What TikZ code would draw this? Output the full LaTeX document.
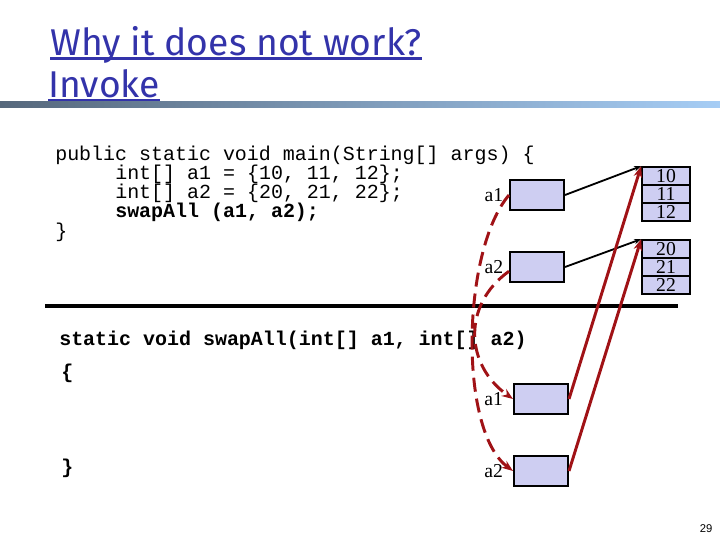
\documentclass[tikz,border=0pt]{standalone}
\usepackage{fontspec}
\setmainfont{Liberation Serif}
\newfontfamily\codefont{Liberation Mono}
\newfontfamily\titlefont{Fira Sans}
\newfontfamily\pagefont{Liberation Sans}
\usetikzlibrary{arrows.meta, positioning}

\definecolor{titleblue}{RGB}{51,51,170}
\definecolor{boxfill}{RGB}{206,206,242}
\definecolor{refred}{RGB}{160,18,22}
\definecolor{barleft}{RGB}{86,104,124}
\definecolor{barright}{RGB}{166,205,245}

\begin{document}
\begin{tikzpicture}[
  x=0.025cm, y=-0.025cm,
  title/.style={font=\titlefont\fontsize{26.5}{28}\selectfont, text=titleblue,
                anchor=base west, inner sep=0pt},
  code/.style={font=\codefont\fontsize{14.2}{17}\selectfont, anchor=base west, inner sep=0pt},
  var/.style={rectangle, draw=black, line width=1.4pt, fill=boxfill,
              minimum width=1.35cm, minimum height=0.75cm},
  cell/.style={rectangle, draw=black, line width=1.2pt, fill=boxfill, inner sep=0pt,
               minimum width=1.2cm, minimum height=0.45cm, font=\fontsize{14}{14}\selectfont},
  lbl/.style={font=\fontsize{14}{14}\selectfont, inner sep=1pt},
  ptr/.style={-{Stealth[length=5pt]}, black, line width=1.3pt},
  swp/.style={-{Stealth[length=8pt]}, refred, line width=2.1pt},
  swpd/.style={swp, dash pattern=on 10pt off 5pt}
]
\useasboundingbox (0,0) rectangle (720,540);

% title and bar
\node[title] (t1) at (50,55) {Why it does not work?};
\node[title] (t2) at (48,97) {Invoke};
\draw[titleblue, line width=2pt] ([yshift=-2.5pt]t1.base west) -- ([yshift=-2.5pt]t1.base east);
\draw[titleblue, line width=2pt] ([yshift=-2.5pt]t2.base west) -- ([yshift=-2.5pt]t2.base east);
\shade[left color=barleft, right color=barright] (0,101) rectangle (720,107);

% main
\node[code] (l1) at (55,160) {public static void main(String[] args) \{};
\node[code] (l2) at (115,179) {int[] a1 = \{10, 11, 12\};};
\node[code] (l3) at (115,198) {int[] a2 = \{20, 21, 22\};};
\node[code] (l4) at (115,217) {\bfseries swapAll (a1, a2);};
\node[code] (l5) at (55,237) {\}};

\node[var] (m1) at (537,195) {};
\node[var] (m2) at (537,267) {};
\node[lbl, left=3pt of m1] (m1l) {a1};
\node[lbl, left=3pt of m2] (m2l) {a2};

% arrays
\foreach \v [count=\i] in {10,11,12}
  \node[cell] (c\v) at (666,158+18*\i) {\v};
\foreach \v [count=\i] in {20,21,22}
  \node[cell] (c\v) at (666,231+18*\i) {\v};

\draw[ptr] (m1.east) -- (c10.north west);
\draw[ptr] (m2.east) -- (c20.north west);

\draw[line width=3pt] (45,306) -- (678,306);

% swapAll
\node[code] (k1) at (59,345) {\bfseries static void swapAll(int[] a1, int[] a2)};
\node[code] (k2) at (61,378) {\bfseries \{};
\node[code] (k3) at (61,473) {\bfseries \}};

\node[var] (s1) at (541,399) {};
\node[var] (s2) at (541,471) {};
\node[lbl, left=6pt of s1] (s1l) {a1};
\node[lbl, left=6pt of s2] (s2l) {a2};

\draw[swp] (s1.east) -- (c10.north west);
\draw[swp] (s2.east) -- (c20.north west);

\draw[swpd] (m1.west) .. controls (462,250) and (458,430) .. (s2.west);
\draw[swpd] ([yshift=-3pt]m2.west) .. controls (462,305) and (465,365) .. (s1.west);

\node[font=\pagefont\fontsize{8}{8}\selectfont, inner sep=0pt] (pg) at (706,529) {29};
\end{tikzpicture}
\end{document}
